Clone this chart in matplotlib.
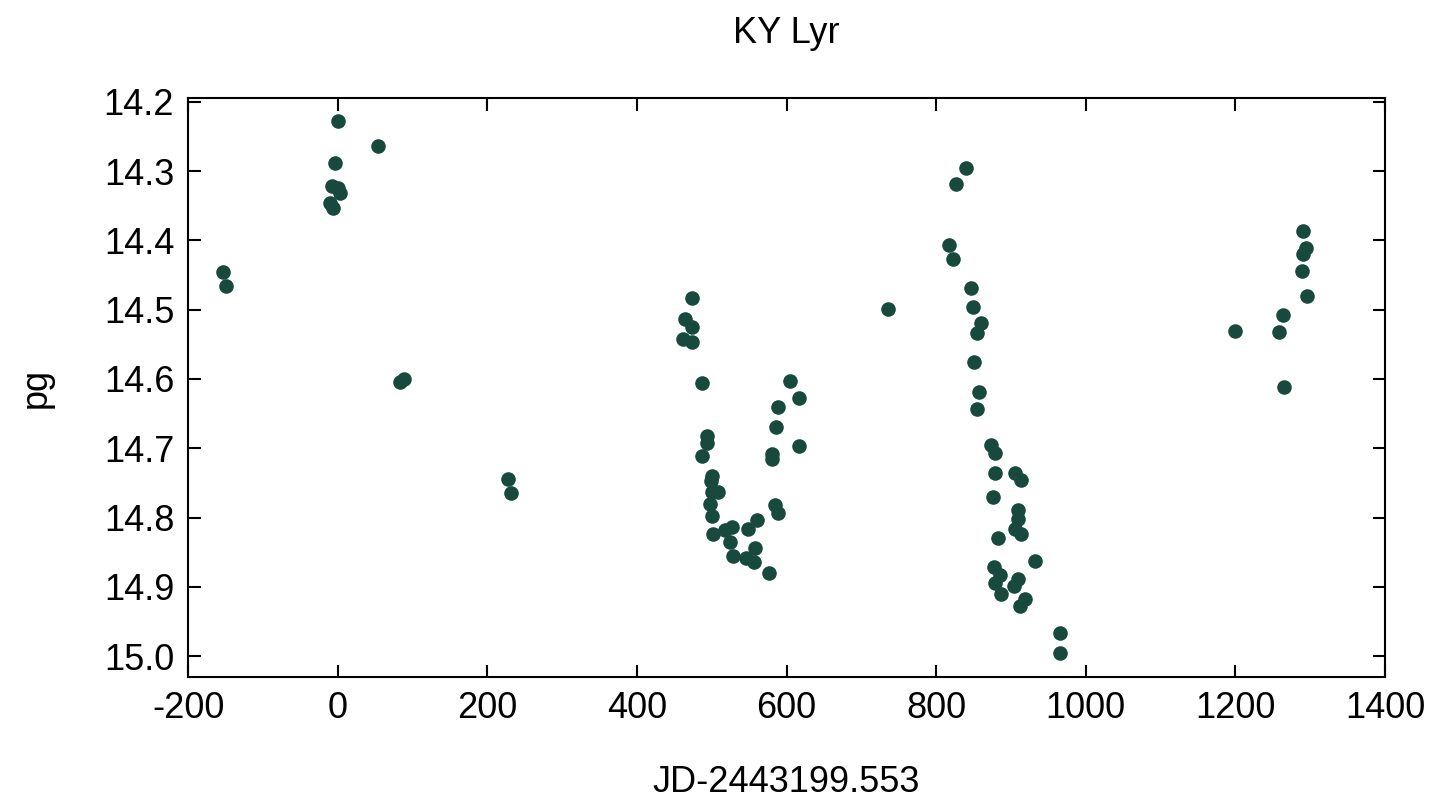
import matplotlib
matplotlib.use("Agg")
import matplotlib.pyplot as plt

# DATA
jd = [
    -153, -149,
    1, -3, -8, 1, 3, -10, -6, 54,
    83, 88, 227, 232,
    474, 464, 473, 462, 473, 487, 493, 493, 487,
    500, 499, 500, 509, 498, 500, 502, 518, 527, 525, 529,
    549, 560, 558, 546, 556, 577,
    604, 616, 588, 586, 617, 580, 580, 585, 589,
    735,
    840, 826, 817, 822, 847, 849, 860, 855, 851, 857, 854,
    873, 878, 878, 906, 914, 876, 910, 909, 906, 914, 882,
    932, 877, 885, 878, 910, 904, 886, 919, 912,
    965, 965,
    1200, 1258, 1263, 1265, 1291, 1295, 1291, 1289, 1296,
]
pg = [
    14.445, 14.466,
    14.228, 14.288, 14.322, 14.325, 14.332, 14.346, 14.353, 14.264,
    14.604, 14.600, 14.744, 14.765,
    14.483, 14.513, 14.525, 14.542, 14.546, 14.606, 14.682, 14.692, 14.711,
    14.740, 14.747, 14.763, 14.763, 14.780, 14.797, 14.824, 14.818, 14.814, 14.835, 14.855,
    14.816, 14.803, 14.844, 14.859, 14.864, 14.880,
    14.603, 14.627, 14.641, 14.669, 14.697, 14.708, 14.716, 14.782, 14.794,
    14.499,
    14.295, 14.319, 14.407, 14.427, 14.469, 14.496, 14.519, 14.533, 14.575, 14.619, 14.644,
    14.695, 14.707, 14.736, 14.736, 14.746, 14.770, 14.789, 14.802, 14.816, 14.824, 14.829,
    14.862, 14.872, 14.883, 14.894, 14.888, 14.899, 14.910, 14.918, 14.927,
    14.967, 14.995,
    14.531, 14.532, 14.508, 14.612, 14.386, 14.411, 14.420, 14.444, 14.481,
]

x_ticks = [-200, 0, 200, 400, 600, 800, 1000, 1200, 1400]
y_ticks = [14.2, 14.3, 14.4, 14.5, 14.6, 14.7, 14.8, 14.9, 15.0]

plt.rcParams["font.family"] = ["Liberation Sans", "DejaVu Sans"]
plt.rcParams["axes.unicode_minus"] = False

fig = plt.figure(figsize=(14.5, 7.99), dpi=100)
ax = fig.add_axes([0.1297, 0.1527, 0.8255, 0.7243])

ax.plot(jd, pg, "o", color="#174a3d", markersize=10.5, markeredgewidth=0)

ax.set_xlim(-200, 1400)
ax.set_ylim(15.03, 14.195)
ax.set_xticks(x_ticks)
ax.set_yticks(y_ticks)
ax.set_yticklabels([f"{v:.1f}" for v in y_ticks])

ax.tick_params(direction="in", top=True, right=True, length=9, width=1.5,
               labelsize=26, pad=10)
for s in ax.spines.values():
    s.set_linewidth(1.5)

ax.set_xlabel("JD-2443199.553", fontsize=26, labelpad=28)
ax.set_ylabel("pg", fontsize=26, labelpad=36)
ax.set_title("KY Lyr", fontsize=26, pad=40)

plt.savefig("out.png", dpi=100)
